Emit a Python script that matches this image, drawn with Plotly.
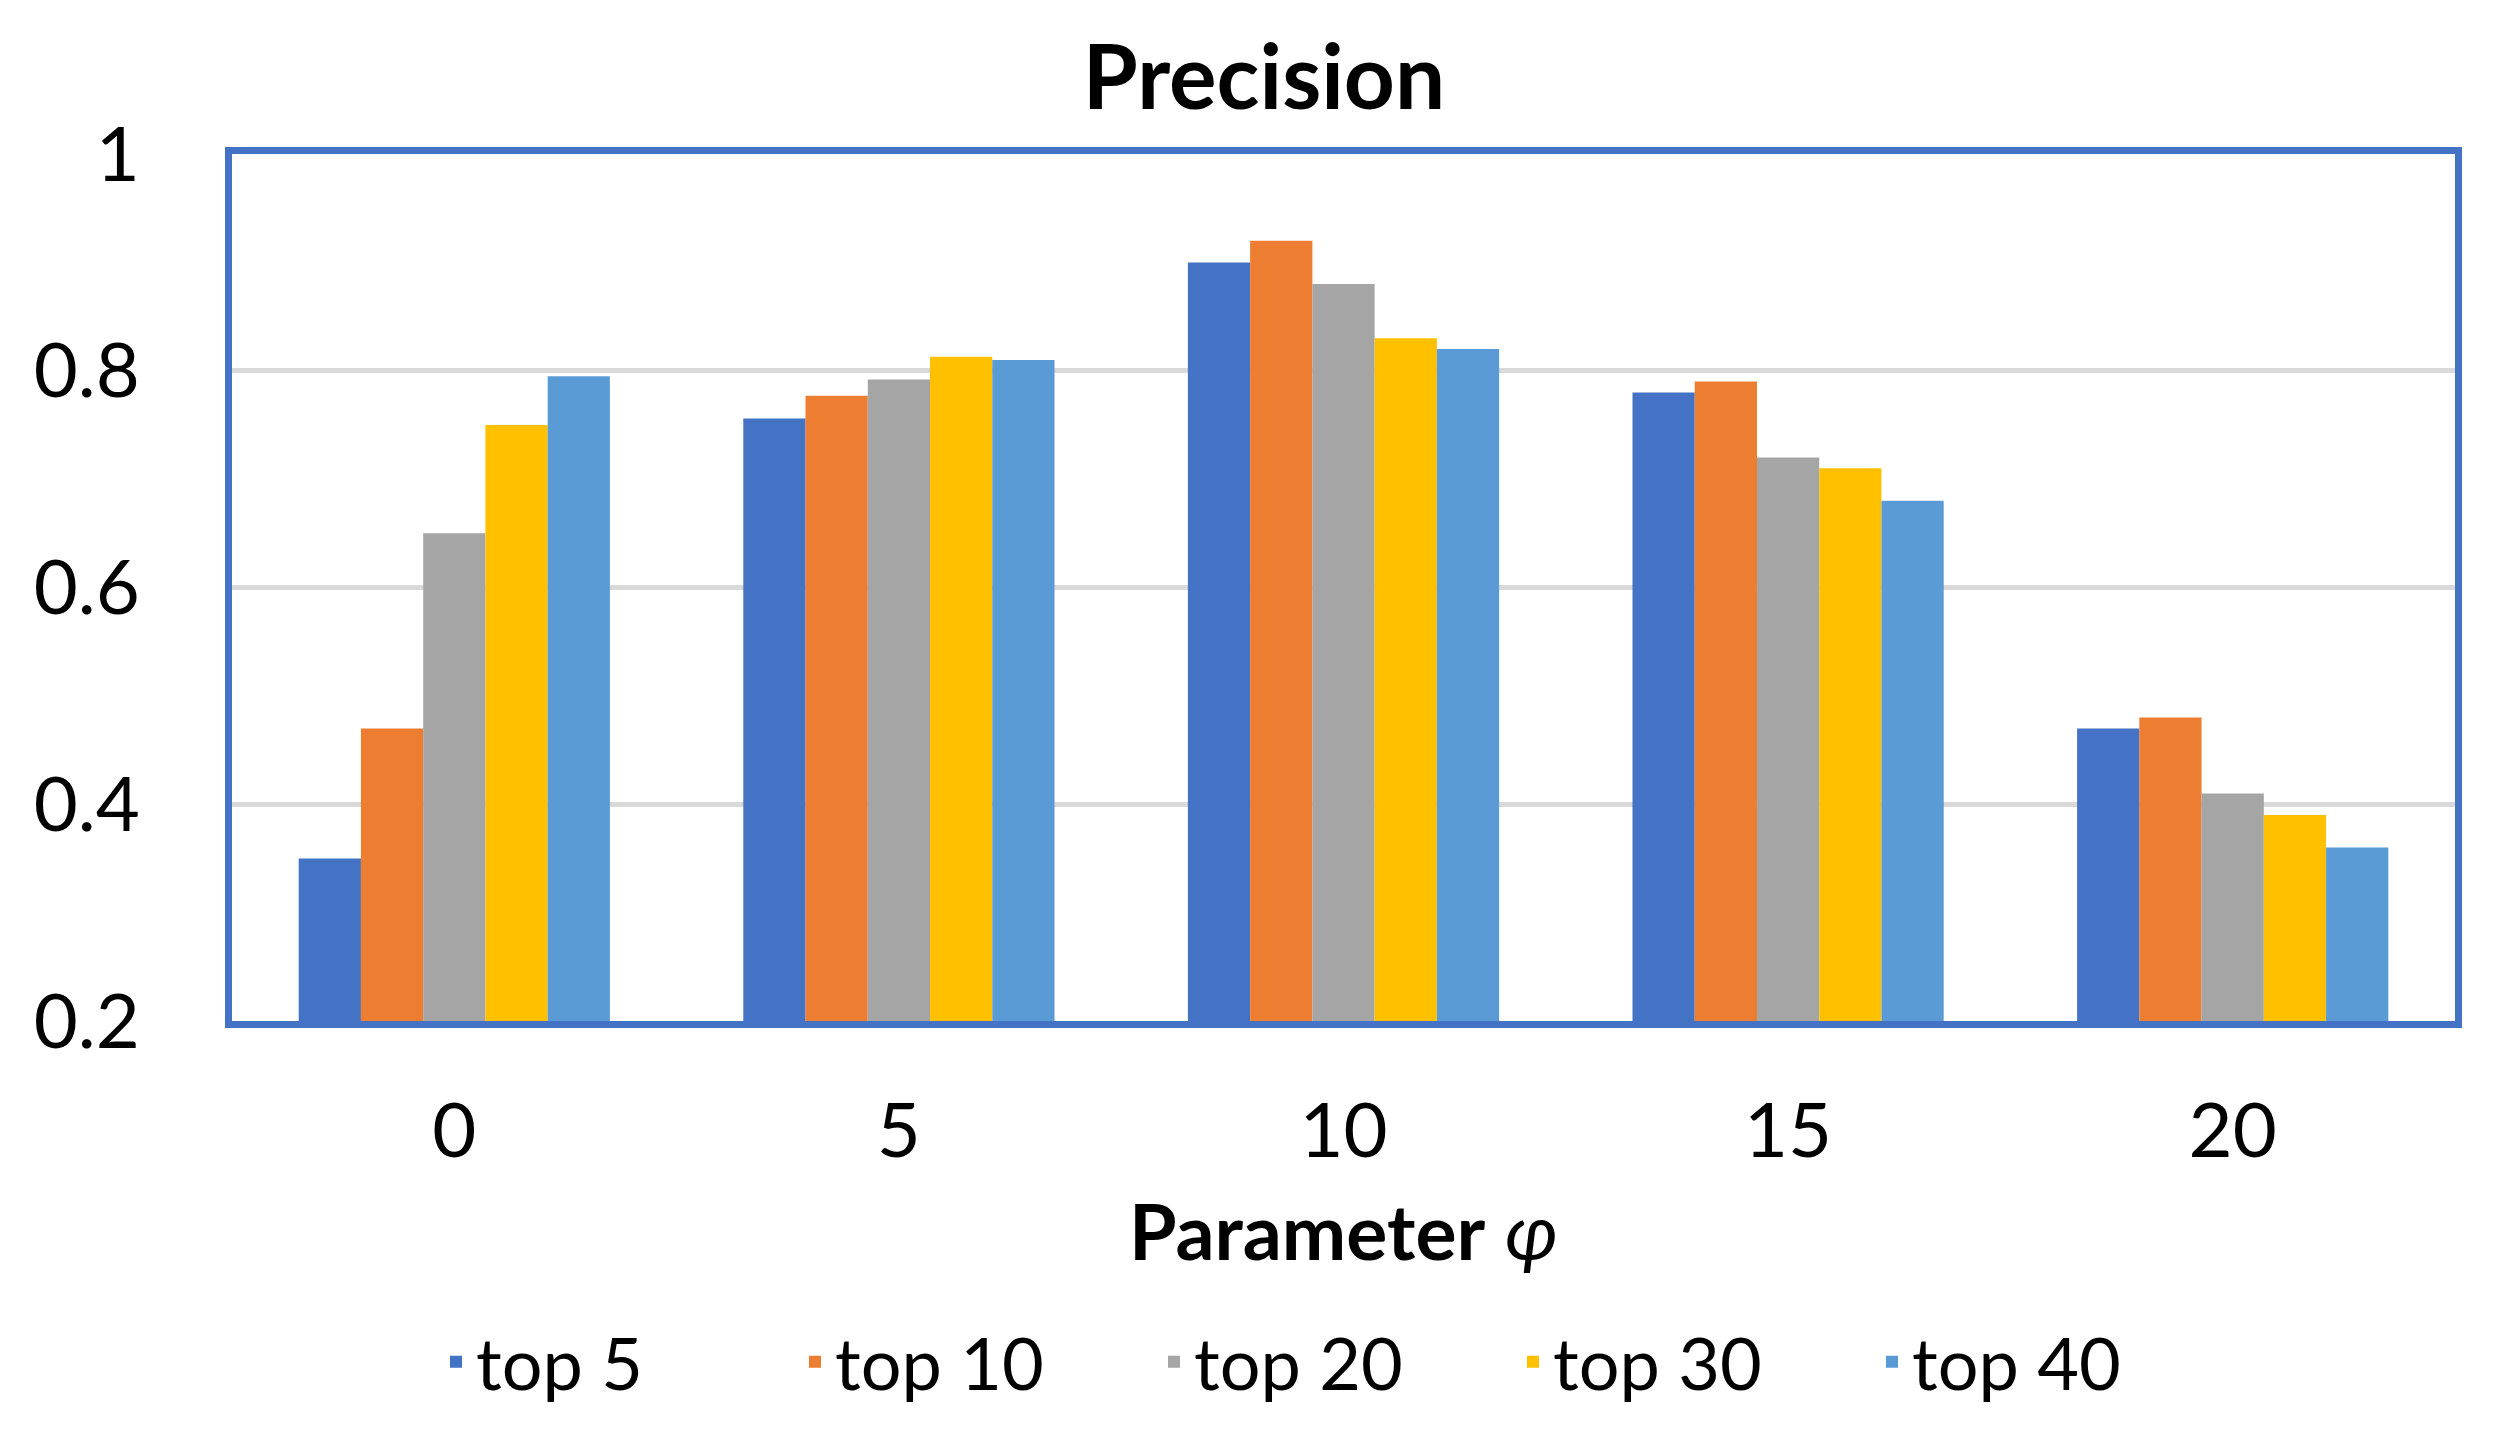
import plotly.graph_objects as go

categories = ["0", "5", "10", "15", "20"]
series_names = ["top 5", "top 10", "top 20", "top 30", "top 40"]
top5 = [0.35, 0.756, 0.90, 0.78, 0.47]
top10 = [0.47, 0.777, 0.92, 0.79, 0.48]
top20 = [0.65, 0.792, 0.88, 0.72, 0.41]
top30 = [0.75, 0.813, 0.83, 0.71, 0.39]
top40 = [0.795, 0.81, 0.82, 0.68, 0.36]
y_ticks = [0.2, 0.4, 0.6, 0.8, 1.0]
y_tick_labels = ["0.2", "0.4", "0.6", "0.8", "1"]

colors = ["#4472C4", "#ED7D31", "#A5A5A5", "#FFC000", "#5B9BD5"]
FONT = "Lato"
W, H = 2498, 1430

fig = go.Figure()
for name, vals, col in zip(series_names, [top5, top10, top20, top30, top40], colors):
    fig.add_trace(go.Bar(x=categories, y=vals, name=name, marker_color=col,
                         marker_line_width=0))

fig.update_layout(
    width=W, height=H,
    margin=dict(l=224, r=51, t=146, b=417),
    paper_bgcolor="white", plot_bgcolor="white",
    barmode="group", bargap=0.30, bargroupgap=0,
    font=dict(family=FONT, color="black", size=76),
    title=dict(text="<b>Precision</b>", x=1256 / W, xref="container",
               y=1 - 70 / H, yref="container", xanchor="center", yanchor="middle",
               font=dict(family=FONT, size=89, color="black")),
    showlegend=True,
    legend=dict(orientation="h", x=428 / W, xref="container", xanchor="left",
                y=1 - 1354 / H, yref="container", yanchor="middle",
                font=dict(family=FONT, size=72, color="black"),
                itemwidth=30, entrywidth=314, entrywidthmode="pixels",
                traceorder="normal"),
)
fig.update_xaxes(
    type="category", showgrid=False, showline=True, mirror=True,
    linecolor="#4472C4", linewidth=7, ticks="", ticklabelstandoff=38,
    tickfont=dict(family=FONT, size=76, color="black"),
    title=dict(text="<b>Parameter</b> <i>φ</i>", standoff=36,
               font=dict(family=FONT, size=77, color="black")),
)
fig.update_yaxes(
    range=[0.2, 1.0], tickvals=y_ticks, ticktext=y_tick_labels,
    showgrid=True, gridcolor="#D9D9D9", gridwidth=5,
    showline=True, mirror=True, linecolor="#4472C4", linewidth=7,
    ticks="", ticklabelstandoff=70, zeroline=False,
    tickfont=dict(family=FONT, size=76, color="black"),
)

fig.write_html("out.html")
